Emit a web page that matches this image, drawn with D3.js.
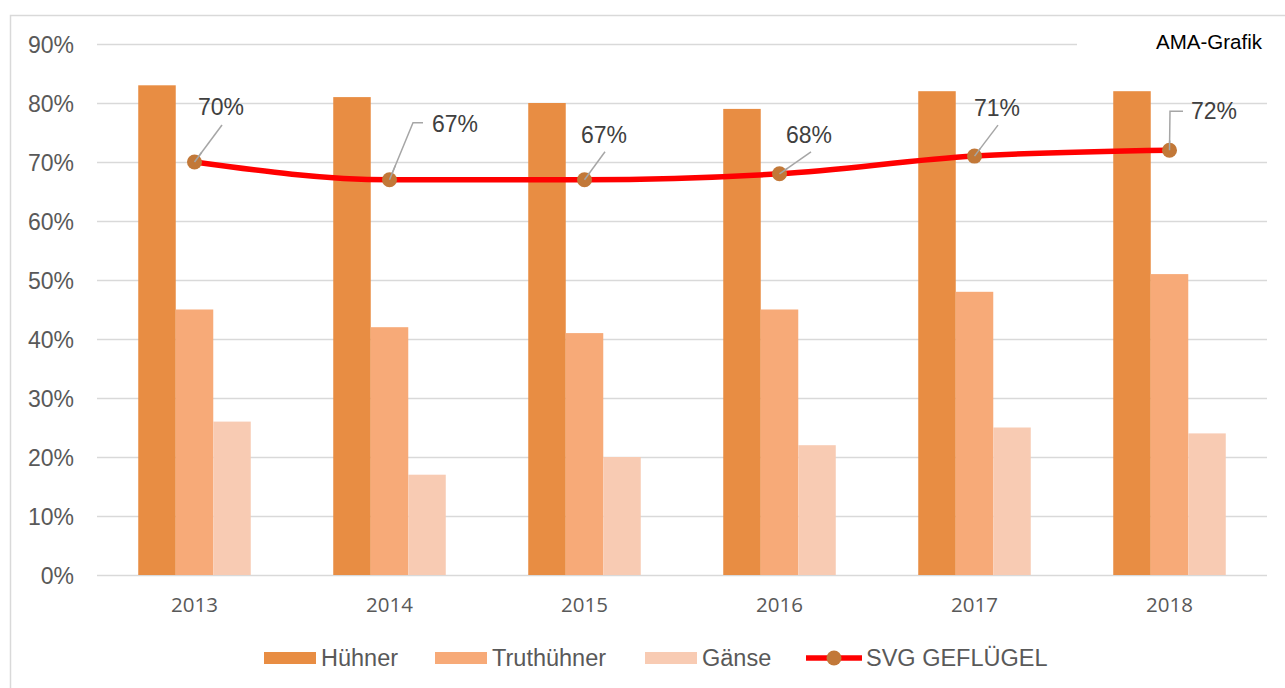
<!DOCTYPE html>
<html>
<head>
<meta charset="utf-8">
<script src="https://cdn.jsdelivr.net/npm/d3@7"></script>
<style>
  body { margin: 0; background: #fff; }
  svg { display: block; }
</style>
</head>
<body>
<div id="chart"></div>
<script>
// data
const years = ["2013", "2014", "2015", "2016", "2017", "2018"];
const huehner = [0.83, 0.81, 0.80, 0.79, 0.82, 0.82];
const truthuehner = [0.45, 0.42, 0.41, 0.45, 0.48, 0.51];
const gaense = [0.26, 0.17, 0.20, 0.22, 0.25, 0.24];
const svgGefluegel = [0.70, 0.67, 0.67, 0.68, 0.71, 0.72];
const yTicks = [0, 0.1, 0.2, 0.3, 0.4, 0.5, 0.6, 0.7, 0.8, 0.9];
const seriesNames = ["Hühner", "Truthühner", "Gänse"];
const lineName = "SVG GEFLÜGEL";

const colors = ["#e88d43", "#f7aa78", "#f8cbb3"];
const red = "#ff0000";
const markerColor = "#c27838";

// where the data labels sit relative to their point (label centre/baseline, leader end, optional elbow)
const labelLayout = [
  { dx: 26.5, dy: -47, lx: 27.5, ly: -37 },
  { dx: 65.5, dy: -48, lx: 23.5, ly: -57, ex: 33.5 },
  { dx: 19.5, dy: -37, lx: 20.5, ly: -28 },
  { dx: 29.5, dy: -31, lx: 31.5, ly: -22 },
  { dx: 22.5, dy: -40, lx: 23.5, ly: -31 },
  { dx: 44.5, dy: -31, lx: 0.5, ly: -39, ex: 13.5 }
];

const w = 1285, h = 688;
const svg = d3.select("#chart").append("svg").attr("width", w).attr("height", h);

// outer frame
svg.append("rect")
  .attr("x", 10.5).attr("y", 15.5)
  .attr("width", 1300).attr("height", 700)
  .attr("fill", "#fff")
  .attr("stroke", "#d9d9d9").attr("stroke-width", 1.5);

const x = d3.scaleBand().domain(years).range([97, 1267]).paddingInner(0.423).paddingOuter(0.2115);
const xs = d3.scaleBand().domain(seriesNames).range([0, x.bandwidth()]);
const y = d3.scaleLinear().domain([0, 0.9]).range([575, 44]);

// gridlines
const yAxis = d3.axisLeft(y).tickValues(yTicks).tickSize(-(1267 - 97)).tickFormat(d3.format(".0%"));
const gy = svg.append("g").attr("transform", "translate(97,0)").call(yAxis);
gy.select(".domain").remove();
gy.selectAll(".tick line").attr("stroke", "#d9d9d9").attr("stroke-width", 1.5);
gy.selectAll(".tick text")
  .attr("x", -23).attr("dy", "0.36em")
  .attr("fill", "#595959")
  .style("font-family", "'Liberation Sans', Arial, sans-serif")
  .style("font-size", "23px");

// AMA-Grafik box covers top gridline end
svg.append("rect").attr("x", 1077).attr("y", 25).attr("width", 200).attr("height", 38).attr("fill", "#fff");
svg.append("text")
  .attr("x", 1262).attr("y", 49)
  .attr("text-anchor", "end")
  .attr("fill", "#000")
  .style("font-family", "'Liberation Sans', Arial, sans-serif")
  .style("font-size", "20.5px")
  .text("AMA-Grafik");

// bars
const allSeries = [huehner, truthuehner, gaense];
seriesNames.forEach((name, si) => {
  svg.append("g")
    .selectAll("rect")
    .data(allSeries[si])
    .enter()
    .append("rect")
    .attr("x", (d, i) => x(years[i]) + xs(name))
    .attr("y", d => y(d))
    .attr("width", xs.bandwidth())
    .attr("height", d => y(0) - y(d))
    .attr("fill", colors[si]);
});

// x axis labels
const xAxis = d3.axisBottom(x).tickSize(0).tickPadding(0);
const gx = svg.append("g").attr("transform", "translate(0,575)").call(xAxis);
gx.select(".domain").remove();
gx.selectAll(".tick text")
  .attr("y", 30).attr("dy", "0.36em")
  .attr("fill", "#595959")
  .style("font-family", "'Open Sans', sans-serif")
  .style("font-size", "20.5px");

// line
const cx = (d, i) => x(years[i]) + x.bandwidth() / 2;
const line = d3.line().x(cx).y(d => y(d)).curve(d3.curveMonotoneX);
svg.append("path")
  .datum(svgGefluegel)
  .attr("d", line)
  .attr("fill", "none")
  .attr("stroke", red)
  .attr("stroke-width", 5.5)
  .attr("stroke-linejoin", "round");

// leader lines
svg.append("g")
  .selectAll("polyline")
  .data(svgGefluegel)
  .enter()
  .append("polyline")
  .attr("points", (d, i) => {
    const px = cx(d, i), py = y(d), L = labelLayout[i];
    const pts = [[px, py], [px + L.lx, py + L.ly]];
    if (L.ex !== undefined) pts.push([px + L.ex, py + L.ly]);
    return pts.map(p => p.join(",")).join(" ");
  })
  .attr("fill", "none")
  .attr("stroke", "#a6a6a6")
  .attr("stroke-width", 1.5);

// markers
svg.append("g")
  .selectAll("circle")
  .data(svgGefluegel)
  .enter()
  .append("circle")
  .attr("cx", cx)
  .attr("cy", d => y(d))
  .attr("r", 7.5)
  .attr("fill", markerColor);

// redraw leader stubs over markers (they start at the centre)
svg.append("g")
  .selectAll("line")
  .data(svgGefluegel)
  .enter()
  .append("line")
  .attr("x1", cx)
  .attr("y1", d => y(d))
  .attr("x2", (d, i) => cx(d, i) + labelLayout[i].lx * 0.25)
  .attr("y2", (d, i) => y(d) + labelLayout[i].ly * 0.25)
  .attr("stroke", "#a6a6a6")
  .attr("stroke-width", 1.5);

// data labels
svg.append("g")
  .selectAll("text")
  .data(svgGefluegel)
  .enter()
  .append("text")
  .attr("x", (d, i) => cx(d, i) + labelLayout[i].dx)
  .attr("y", (d, i) => y(d) + labelLayout[i].dy)
  .attr("text-anchor", "middle")
  .attr("fill", "#404040")
  .style("font-family", "'Liberation Sans', Arial, sans-serif")
  .style("font-size", "23px")
  .text(d => d3.format(".0%")(d));

// legend
const legend = svg.append("g").style("font-family", "'Liberation Sans', Arial, sans-serif").style("font-size", "23.5px");
const legendX = [264, 435, 645];
seriesNames.forEach((name, si) => {
  legend.append("rect")
    .attr("x", legendX[si]).attr("y", 652)
    .attr("width", 52).attr("height", 12)
    .attr("fill", colors[si]);
  legend.append("text")
    .attr("x", legendX[si] + 57).attr("y", 666)
    .attr("fill", "#595959")
    .text(name);
});
legend.append("line")
  .attr("x1", 806).attr("x2", 862).attr("y1", 658).attr("y2", 658)
  .attr("stroke", red).attr("stroke-width", 5.5);
legend.append("circle").attr("cx", 834).attr("cy", 658).attr("r", 7.5).attr("fill", markerColor);
legend.append("text")
  .attr("x", 866).attr("y", 666)
  .attr("fill", "#595959")
  .text(lineName);
</script>
</body>
</html>
